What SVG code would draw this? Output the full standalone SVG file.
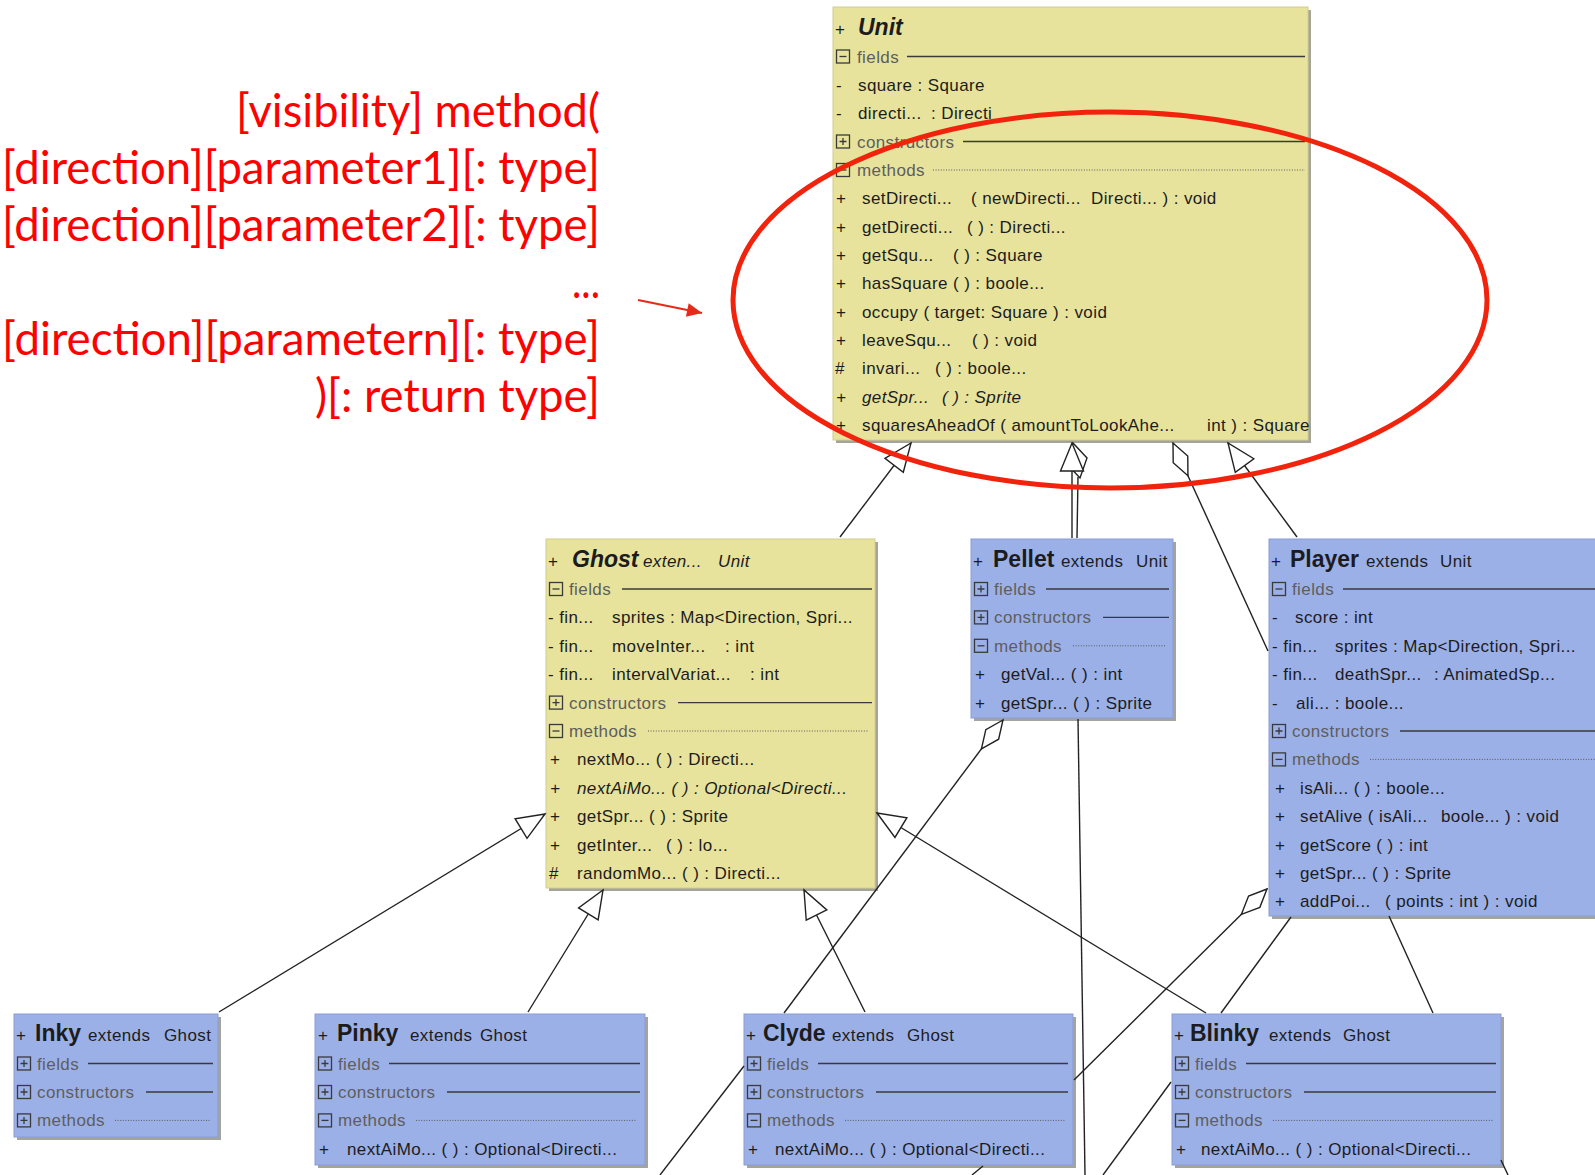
<svg xmlns="http://www.w3.org/2000/svg" xmlns:xlink="http://www.w3.org/1999/xlink" width="1595" height="1175" viewBox="0 0 1595 1175">
<style>
  .t { font-family: "Liberation Sans", Arial, sans-serif; font-size: 17px; fill: #1c1c1c; letter-spacing: 0.4px; }
  .i { font-style: italic; }
  .ttl { font-size: 23px; font-weight: bold; letter-spacing: 0; }
  .h { fill: #5e5e5e; }
  .y { fill: #e7e39d; stroke: #d2ce8a; stroke-width: 1; }
  .b { fill: #9cb0e8; stroke: #8a9ed6; stroke-width: 1; }
  .sh { fill: #85857a; opacity: 0.75; }
  .ln { stroke: #3a3a3a; stroke-width: 1.3; }
  .dot { stroke: #5a5a5a; stroke-width: 1; stroke-dasharray: 1 1.6; }
  .ic { fill: none; stroke: #3a3a3a; stroke-width: 1.3; }
  .c { stroke: #222; stroke-width: 1.4; fill: none; }
  .gen { marker-end: url(#tri); }
  .agg { marker-end: url(#dia); }
  .note { font-family: Lato, "Liberation Sans", sans-serif; font-size: 46px; fill: #ff0000; }
</style>
<defs>
  <marker id="tri" viewBox="-30 -13 32 26" refX="0" refY="0" markerWidth="32" markerHeight="26" markerUnits="userSpaceOnUse" orient="auto">
    <path d="M0,0 L-28,-11.5 L-28,11.5 Z" fill="#fff" stroke="#222" stroke-width="1.4"/>
  </marker>
  <marker id="dia" viewBox="-38 -10 40 20" refX="0" refY="0" markerWidth="40" markerHeight="20" markerUnits="userSpaceOnUse" orient="auto">
    <path d="M0,0 L-18,-8 L-36,0 L-18,8 Z" fill="#fff" stroke="#222" stroke-width="1.4"/>
  </marker>
  <marker id="redhead" viewBox="-16 -8 18 16" refX="0" refY="0" markerWidth="18" markerHeight="16" markerUnits="userSpaceOnUse" orient="auto">
    <path d="M0,0 L-15,-7 L-15,7 Z" fill="#e62a1a"/>
  </marker>
  <g id="mi"><rect x="0.5" y="0.5" width="13" height="13" class="ic"/><path d="M3.5 7H10.5" class="ic"/></g>
  <g id="pl"><rect x="0.5" y="0.5" width="13" height="13" class="ic"/><path d="M3.5 7H10.5M7 3.5V10.5" class="ic"/></g>
</defs>

<rect width="1595" height="1175" fill="#ffffff"/>

<!-- Unit -->
<g id="unit">
  <rect class="sh" x="836" y="10" width="475" height="433"/>
  <rect class="y" x="833" y="7" width="475" height="433"/>
  <text class="t" y="35"><tspan x="835">+</tspan><tspan x="858" class="ttl i">Unit</tspan></text>
  <use xlink:href="#mi" x="836" y="49.5"/>
  <text class="t h" x="857" y="62.5">fields</text>
  <line class="ln" x1="907" y1="56.5" x2="1305" y2="56.5"/>
  <text class="t" y="90.9"><tspan x="836">-</tspan><tspan x="858">square : Square</tspan></text>
  <text class="t" y="119.2"><tspan x="836">-</tspan><tspan x="858">directi...</tspan><tspan x="931">: Directi</tspan></text>
  <use xlink:href="#pl" x="836" y="134.5"/>
  <text class="t h" x="857" y="147.5">constructors</text>
  <line class="ln" x1="963" y1="141.5" x2="1305" y2="141.5"/>
  <use xlink:href="#mi" x="836" y="163"/>
  <text class="t h" x="857" y="176">methods</text>
  <line class="dot" x1="933" y1="170" x2="1305" y2="170"/>
  <text class="t" y="204.3"><tspan x="836">+</tspan><tspan x="862">setDirecti...</tspan><tspan x="971">( newDirecti...</tspan><tspan x="1091">Directi... ) : void</tspan></text>
  <text class="t" y="232.6"><tspan x="836">+</tspan><tspan x="862">getDirecti...</tspan><tspan x="967">( ) : Directi...</tspan></text>
  <text class="t" y="261"><tspan x="836">+</tspan><tspan x="862">getSqu...</tspan><tspan x="953">( ) : Square</tspan></text>
  <text class="t" y="289.3"><tspan x="836">+</tspan><tspan x="862">hasSquare ( ) : boole...</tspan></text>
  <text class="t" y="317.7"><tspan x="836">+</tspan><tspan x="862">occupy ( target: Square ) : void</tspan></text>
  <text class="t" y="346"><tspan x="836">+</tspan><tspan x="862">leaveSqu...</tspan><tspan x="972">( ) : void</tspan></text>
  <text class="t" y="374.4"><tspan x="835">#</tspan><tspan x="862">invari...</tspan><tspan x="935">( ) : boole...</tspan></text>
  <text class="t i" y="402.7"><tspan x="836">+</tspan><tspan x="862">getSpr...</tspan><tspan x="942">( ) : Sprite</tspan></text>
  <text class="t" y="431"><tspan x="836">+</tspan><tspan x="862">squaresAheadOf ( amountToLookAhe...</tspan><tspan x="1207">int ) : Square</tspan></text>
</g>

<!-- Ghost -->
<g id="ghost">
  <rect class="sh" x="549" y="542" width="329" height="349"/>
  <rect class="y" x="546" y="539" width="329" height="349"/>
  <text class="t" y="566.5"><tspan x="548">+</tspan><tspan x="572" class="ttl i">Ghost</tspan><tspan x="643" class="i">exten...</tspan><tspan x="718" class="i">Unit</tspan></text>
  <use xlink:href="#mi" x="549" y="582"/>
  <text class="t h" x="569" y="595">fields</text>
  <line class="ln" x1="622" y1="589" x2="872" y2="589"/>
  <text class="t" y="623.4"><tspan x="548">- fin...</tspan><tspan x="612">sprites : Map&lt;Direction, Spri...</tspan></text>
  <text class="t" y="651.8"><tspan x="548">- fin...</tspan><tspan x="612">moveInter...</tspan><tspan x="725">: int</tspan></text>
  <text class="t" y="680.2"><tspan x="548">- fin...</tspan><tspan x="612">intervalVariat...</tspan><tspan x="750">: int</tspan></text>
  <use xlink:href="#pl" x="549" y="695.6"/>
  <text class="t h" x="569" y="708.6">constructors</text>
  <line class="ln" x1="678" y1="702.6" x2="872" y2="702.6"/>
  <use xlink:href="#mi" x="549" y="724"/>
  <text class="t h" x="569" y="737">methods</text>
  <line class="dot" x1="648" y1="731" x2="868" y2="731"/>
  <text class="t" y="765.4"><tspan x="550">+</tspan><tspan x="577">nextMo... ( ) : Directi...</tspan></text>
  <text class="t i" y="793.8"><tspan x="550">+</tspan><tspan x="577">nextAiMo... ( ) : Optional&lt;Directi...</tspan></text>
  <text class="t" y="822.2"><tspan x="550">+</tspan><tspan x="577">getSpr... ( ) : Sprite</tspan></text>
  <text class="t" y="850.6"><tspan x="550">+</tspan><tspan x="577">getInter...</tspan><tspan x="666">( ) : lo...</tspan></text>
  <text class="t" y="879"><tspan x="549">#</tspan><tspan x="577">randomMo... ( ) : Directi...</tspan></text>
</g>

<!-- Pellet -->
<g id="pellet">
  <rect class="sh" x="974" y="542" width="202" height="179"/>
  <rect class="b" x="971" y="539" width="202" height="179"/>
  <text class="t" y="566.5"><tspan x="973">+</tspan><tspan x="993" class="ttl">Pellet</tspan><tspan x="1061">extends</tspan><tspan x="1136">Unit</tspan></text>
  <use xlink:href="#pl" x="974" y="582"/>
  <text class="t h" x="994" y="595">fields</text>
  <line class="ln" x1="1046" y1="589" x2="1169" y2="589"/>
  <use xlink:href="#pl" x="974" y="610.4"/>
  <text class="t h" x="994" y="623.4">constructors</text>
  <line class="ln" x1="1103" y1="617.4" x2="1169" y2="617.4"/>
  <use xlink:href="#mi" x="974" y="638.8"/>
  <text class="t h" x="994" y="651.8">methods</text>
  <line class="dot" x1="1073" y1="645.8" x2="1166" y2="645.8"/>
  <text class="t" y="680.2"><tspan x="975">+</tspan><tspan x="1001">getVal... ( ) : int</tspan></text>
  <text class="t" y="708.6"><tspan x="975">+</tspan><tspan x="1001">getSpr... ( ) : Sprite</tspan></text>
</g>

<!-- Player -->
<g id="player">
  <rect class="sh" x="1272" y="542" width="330" height="377"/>
  <rect class="b" x="1269" y="539" width="330" height="377"/>
  <text class="t" y="566.5"><tspan x="1271">+</tspan><tspan x="1290" class="ttl">Player</tspan><tspan x="1366">extends</tspan><tspan x="1440">Unit</tspan></text>
  <use xlink:href="#mi" x="1272" y="582"/>
  <text class="t h" x="1292" y="595">fields</text>
  <line class="ln" x1="1343" y1="589" x2="1595" y2="589"/>
  <text class="t" y="623.4"><tspan x="1272">-</tspan><tspan x="1295">score : int</tspan></text>
  <text class="t" y="651.8"><tspan x="1272">- fin...</tspan><tspan x="1335">sprites : Map&lt;Direction, Spri...</tspan></text>
  <text class="t" y="680.2"><tspan x="1272">- fin...</tspan><tspan x="1335">deathSpr...</tspan><tspan x="1434">: AnimatedSp...</tspan></text>
  <text class="t" y="708.6"><tspan x="1272">-</tspan><tspan x="1296">ali... : boole...</tspan></text>
  <use xlink:href="#pl" x="1272" y="724"/>
  <text class="t h" x="1292" y="737">constructors</text>
  <line class="ln" x1="1400" y1="731" x2="1595" y2="731"/>
  <use xlink:href="#mi" x="1272" y="752.4"/>
  <text class="t h" x="1292" y="765.4">methods</text>
  <line class="dot" x1="1370" y1="759.4" x2="1595" y2="759.4"/>
  <text class="t" y="793.8"><tspan x="1275">+</tspan><tspan x="1300">isAli... ( ) : boole...</tspan></text>
  <text class="t" y="822.2"><tspan x="1275">+</tspan><tspan x="1300">setAlive ( isAli...</tspan><tspan x="1441">boole... ) : void</tspan></text>
  <text class="t" y="850.6"><tspan x="1275">+</tspan><tspan x="1300">getScore ( ) : int</tspan></text>
  <text class="t" y="879"><tspan x="1275">+</tspan><tspan x="1300">getSpr... ( ) : Sprite</tspan></text>
  <text class="t" y="907.4"><tspan x="1275">+</tspan><tspan x="1300">addPoi...</tspan><tspan x="1385">( points : int ) : void</tspan></text>
</g>

<!-- Inky -->
<g id="inky">
  <rect class="sh" x="17" y="1017" width="204" height="123"/>
  <rect class="b" x="14" y="1014" width="204" height="123"/>
  <text class="t" y="1041"><tspan x="16">+</tspan><tspan x="35" class="ttl">Inky</tspan><tspan x="88">extends</tspan><tspan x="164">Ghost</tspan></text>
  <use xlink:href="#pl" x="17" y="1056.5"/>
  <text class="t h" x="37" y="1069.5">fields</text>
  <line class="ln" x1="88" y1="1063.5" x2="213" y2="1063.5"/>
  <use xlink:href="#pl" x="17" y="1085"/>
  <text class="t h" x="37" y="1098">constructors</text>
  <line class="ln" x1="146" y1="1092" x2="213" y2="1092"/>
  <use xlink:href="#pl" x="17" y="1113.4"/>
  <text class="t h" x="37" y="1126.4">methods</text>
  <line class="dot" x1="115" y1="1120.4" x2="210" y2="1120.4"/>
</g>

<!-- Pinky -->
<g id="pinky">
  <rect class="sh" x="318" y="1017" width="330" height="151"/>
  <rect class="b" x="315" y="1014" width="330" height="151"/>
  <text class="t" y="1041"><tspan x="318">+</tspan><tspan x="337" class="ttl">Pinky</tspan><tspan x="410">extends</tspan><tspan x="480">Ghost</tspan></text>
  <use xlink:href="#pl" x="318" y="1056.5"/>
  <text class="t h" x="338" y="1069.5">fields</text>
  <line class="ln" x1="389" y1="1063.5" x2="640" y2="1063.5"/>
  <use xlink:href="#pl" x="318" y="1085"/>
  <text class="t h" x="338" y="1098">constructors</text>
  <line class="ln" x1="447" y1="1092" x2="640" y2="1092"/>
  <use xlink:href="#mi" x="318" y="1113.4"/>
  <text class="t h" x="338" y="1126.4">methods</text>
  <line class="dot" x1="416" y1="1120.4" x2="637" y2="1120.4"/>
  <text class="t" y="1154.8"><tspan x="319">+</tspan><tspan x="347">nextAiMo... ( ) : Optional&lt;Directi...</tspan></text>
</g>

<!-- Clyde -->
<g id="clyde">
  <rect class="sh" x="747" y="1017" width="329" height="151"/>
  <rect class="b" x="744" y="1014" width="329" height="151"/>
  <text class="t" y="1041"><tspan x="746">+</tspan><tspan x="763" class="ttl">Clyde</tspan><tspan x="832">extends</tspan><tspan x="907">Ghost</tspan></text>
  <use xlink:href="#pl" x="747" y="1056.5"/>
  <text class="t h" x="767" y="1069.5">fields</text>
  <line class="ln" x1="818" y1="1063.5" x2="1068" y2="1063.5"/>
  <use xlink:href="#pl" x="747" y="1085"/>
  <text class="t h" x="767" y="1098">constructors</text>
  <line class="ln" x1="876" y1="1092" x2="1068" y2="1092"/>
  <use xlink:href="#mi" x="747" y="1113.4"/>
  <text class="t h" x="767" y="1126.4">methods</text>
  <line class="dot" x1="845" y1="1120.4" x2="1065" y2="1120.4"/>
  <text class="t" y="1154.8"><tspan x="748">+</tspan><tspan x="775">nextAiMo... ( ) : Optional&lt;Directi...</tspan></text>
</g>

<!-- Blinky -->
<g id="blinky">
  <rect class="sh" x="1175" y="1017" width="329" height="151"/>
  <rect class="b" x="1172" y="1014" width="329" height="151"/>
  <text class="t" y="1041"><tspan x="1174">+</tspan><tspan x="1190" class="ttl">Blinky</tspan><tspan x="1269">extends</tspan><tspan x="1343">Ghost</tspan></text>
  <use xlink:href="#pl" x="1175" y="1056.5"/>
  <text class="t h" x="1195" y="1069.5">fields</text>
  <line class="ln" x1="1246" y1="1063.5" x2="1496" y2="1063.5"/>
  <use xlink:href="#pl" x="1175" y="1085"/>
  <text class="t h" x="1195" y="1098">constructors</text>
  <line class="ln" x1="1304" y1="1092" x2="1496" y2="1092"/>
  <use xlink:href="#mi" x="1175" y="1113.4"/>
  <text class="t h" x="1195" y="1126.4">methods</text>
  <line class="dot" x1="1273" y1="1120.4" x2="1493" y2="1120.4"/>
  <text class="t" y="1154.8"><tspan x="1176">+</tspan><tspan x="1201">nextAiMo... ( ) : Optional&lt;Directi...</tspan></text>
</g>

<!-- connectors -->
<g id="connectors">
  <line class="c gen" x1="840" y1="537" x2="911" y2="443"/>
  <line class="c" x1="1077" y1="538" x2="1078" y2="477"/>
  <path class="c" d="M1073,443 L1087,458 L1080,478 L1066,463 Z" fill="#fff"/>
  <line class="c gen" x1="1072" y1="538" x2="1072" y2="443"/>
  <line class="c agg" x1="1268" y1="651" x2="1173" y2="443"/>
  <line class="c gen" x1="1297" y1="537" x2="1228" y2="443"/>
  <line class="c gen" x1="219" y1="1012" x2="545" y2="814"/>
  <line class="c gen" x1="528" y1="1012" x2="603" y2="890"/>
  <line class="c gen" x1="865" y1="1012" x2="804" y2="890"/>
  <line class="c gen" x1="1206" y1="1013" x2="877" y2="813"/>
  <line class="c agg" x1="784" y1="1013" x2="1003" y2="720"/>
  <line class="c agg" x1="1074" y1="1080" x2="1267" y2="889"/>
  <line class="c" x1="1221" y1="1013" x2="1291" y2="917"/>
  <line class="c" x1="1389" y1="916" x2="1433" y2="1013"/>
  <line class="c" x1="1078" y1="719" x2="1085" y2="1175"/>
  <line class="c" x1="744" y1="1066" x2="660" y2="1175"/>
  <line class="c" x1="983" y1="1166" x2="972" y2="1175"/>
  <line class="c" x1="1171" y1="1082" x2="1103" y2="1175"/>
  <line class="c" x1="1501" y1="1160" x2="1508" y2="1175"/>
</g>

<!-- method signature annotation -->
<g id="annotation">
  <text class="note" x="236" y="127" textLength="364" lengthAdjust="spacingAndGlyphs">[visibility] method(</text>
  <text class="note" x="2" y="184" textLength="598" lengthAdjust="spacingAndGlyphs">[direction][parameter1][: type]</text>
  <text class="note" x="2" y="241" textLength="598" lengthAdjust="spacingAndGlyphs">[direction][parameter2][: type]</text>
  <text class="note" x="572" y="298" textLength="28" lengthAdjust="spacingAndGlyphs">...</text>
  <text class="note" x="2" y="355" textLength="598" lengthAdjust="spacingAndGlyphs">[direction][parametern][: type]</text>
  <text class="note" x="315" y="412" textLength="285" lengthAdjust="spacingAndGlyphs">)[: return type]</text>
  <line x1="638" y1="300" x2="702" y2="313" stroke="#e62a1a" stroke-width="2.2" marker-end="url(#redhead)"/>
  <ellipse cx="1110" cy="300" rx="377" ry="188" fill="none" stroke="#f2230d" stroke-width="5"/>
</g>
</svg>
